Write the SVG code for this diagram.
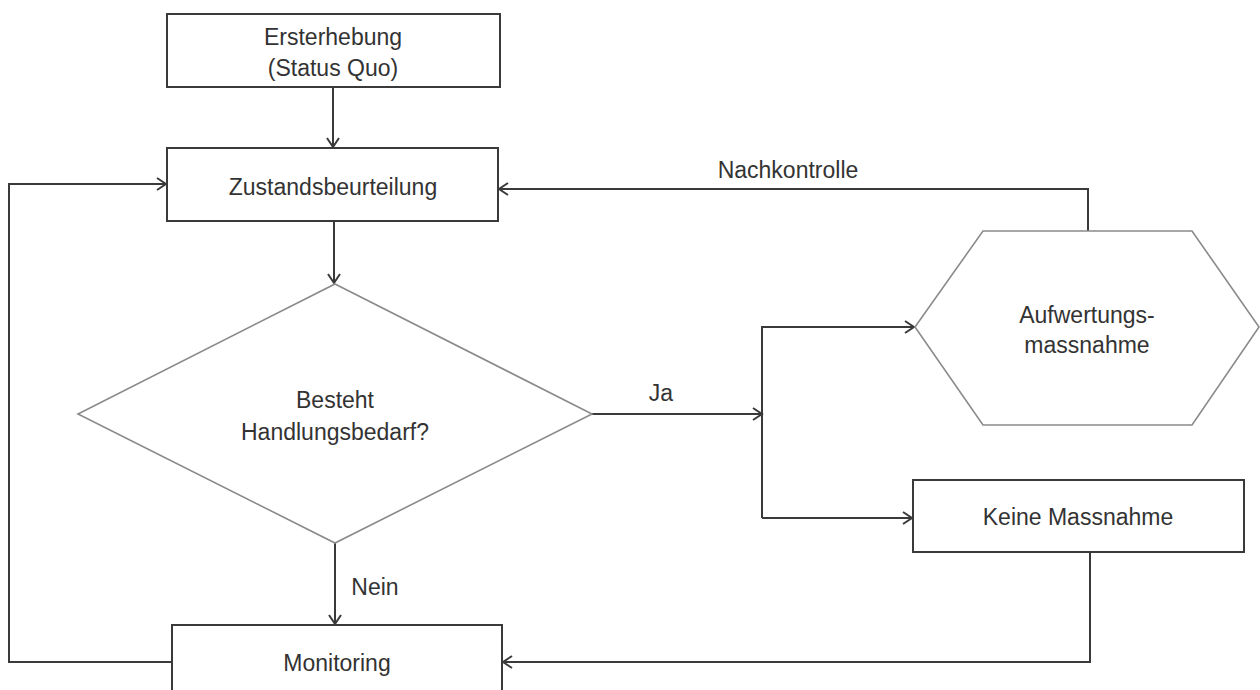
<svg xmlns="http://www.w3.org/2000/svg" width="1260" height="690" viewBox="0 0 1260 690">
<style>
.box{fill:#fff;stroke:#3a3a3a;stroke-width:2}
.shape{fill:#fff;stroke:#8a8a8a;stroke-width:1.6}
.lbl{font-family:"Liberation Sans",Arial,sans-serif;font-size:23px;fill:#333;text-anchor:middle;dominant-baseline:central}
.edge{fill:none;stroke:#3a3a3a;stroke-width:2}
</style>
<defs>
<marker id="arr" markerUnits="userSpaceOnUse" markerWidth="16" markerHeight="16" viewBox="0 0 16 16" refX="14" refY="8" orient="auto">
<path d="M5,2 L14,8 L5,14" fill="none" stroke="#3a3a3a" stroke-width="2"/>
</marker>
</defs>
<rect width="1260" height="690" fill="#fff"/>
<g id="connectors">
<path class="edge" d="M333,87 V147" marker-end="url(#arr)"/>
<path class="edge" d="M334,221 V283" marker-end="url(#arr)"/>
<path class="edge" d="M592,414 H762" marker-end="url(#arr)"/>
<path class="edge" d="M762,518 V327 H914" marker-end="url(#arr)"/>
<path class="edge" d="M762,518 H912" marker-end="url(#arr)"/>
<path class="edge" d="M335,543 V624" marker-end="url(#arr)"/>
<path class="edge" d="M1090,552 V662 H503" marker-end="url(#arr)"/>
<path class="edge" d="M172,662 H9 V184 H166" marker-end="url(#arr)"/>
<path class="edge" d="M1088,231 V189 H499" marker-end="url(#arr)"/>
<text class="lbl" x="788" y="170">Nachkontrolle</text>
<text class="lbl" x="661" y="393">Ja</text>
<text class="lbl" x="375" y="587">Nein</text>
</g>
<g id="n1"><rect class="box" x="167" y="14" width="333" height="73"/>
<text class="lbl" x="333" y="37">Ersterhebung</text>
<text class="lbl" x="333" y="68">(Status Quo)</text></g>
<g id="n2"><rect class="box" x="167" y="148" width="331" height="73"/>
<text class="lbl" x="333" y="187">Zustandsbeurteilung</text></g>
<g id="n3"><polygon class="shape" points="335,284 592,414 335,543 78,414"/>
<text class="lbl" x="335" y="400">Besteht</text>
<text class="lbl" x="335" y="432">Handlungsbedarf?</text></g>
<g id="n4"><polygon class="shape" points="983,231 1192,231 1259,327 1192,425 983,425 915,327"/>
<text class="lbl" x="1087" y="315">Aufwertungs-</text>
<text class="lbl" x="1087" y="345">massnahme</text></g>
<g id="n5"><rect class="box" x="913" y="480" width="331" height="72"/>
<text class="lbl" x="1078" y="517">Keine Massnahme</text></g>
<g id="n6"><rect class="box" x="172" y="625" width="330" height="80"/>
<text class="lbl" x="337" y="663">Monitoring</text></g>
</svg>
